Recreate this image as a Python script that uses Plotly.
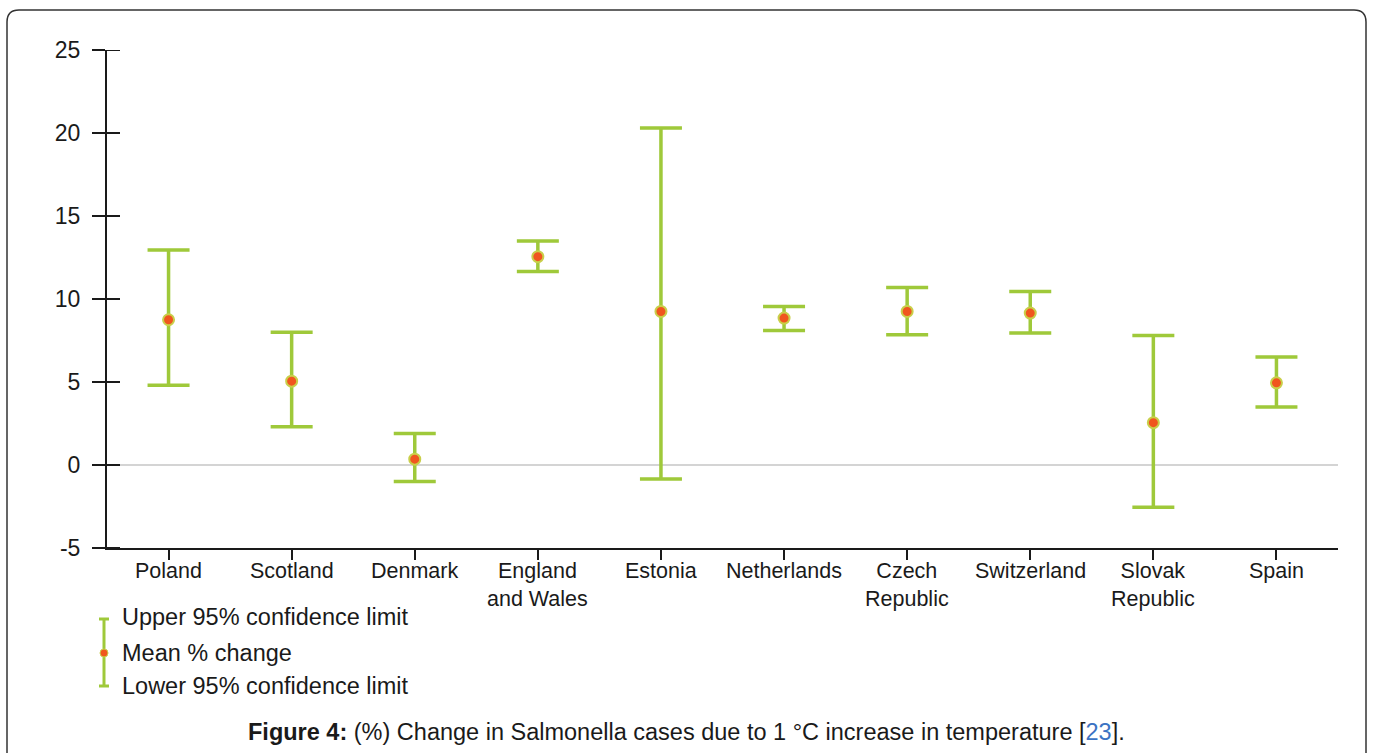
import plotly.graph_objects as go

# Percentage change in Salmonella cases per 1 °C rise, with 95% confidence limits
countries = ["Poland", "Scotland", "Denmark", "England<br>and Wales", "Estonia",
             "Netherlands", "Czech<br>Republic", "Switzerland", "Slovak<br>Republic", "Spain"]
mean_change = [8.75, 5.05, 0.35, 12.55, 9.25, 8.85, 9.25, 9.15, 2.55, 4.95]
upper_limit = [12.95, 8.0, 1.9, 13.5, 20.3, 9.55, 10.7, 10.45, 7.8, 6.5]
lower_limit = [4.8, 2.3, -1.0, 11.65, -0.85, 8.1, 7.85, 7.95, -2.55, 3.5]
y_ticks = [-5, 0, 5, 10, 15, 20, 25]
y_tick_text = ["-5", "0", "5", "10", "15", "20", "25"]

legend_labels = ["Upper 95% confidence limit", "Mean % change", "Lower 95% confidence limit"]
caption = ("<b>Figure 4:</b> (%) Change in Salmonella cases due to 1 °C increase in temperature "
           "[<span style='color:#3b73c3'>23</span>].")

GREEN = "#9fc93a"
ORANGE = "#f0561e"
INK = "#1a1a1a"
FONT = "Liberation Sans, Arial, sans-serif"

W, H = 1373, 753
L, R, T, B = 107, 35, 50, 205
PW, PH = W - L - R, H - T - B


def px(x):
    return (x - L) / PW


def py(y):
    return 1 - (y - T) / PH


err_plus = [u - m for u, m in zip(upper_limit, mean_change)]
err_minus = [m - lo for m, lo in zip(mean_change, lower_limit)]
idx = list(range(len(countries)))

fig = go.Figure()
fig.add_trace(go.Scatter(
    x=idx, y=mean_change, mode="markers",
    marker=dict(size=11, color=ORANGE, line=dict(color="#c9cf4a", width=2)),
    error_y=dict(type="data", symmetric=False, array=err_plus, arrayminus=err_minus,
                 color=GREEN, thickness=3.5, width=21),
    showlegend=False, hoverinfo="skip",
))

fig.update_layout(
    width=W, height=H,
    margin=dict(l=L, r=R, t=T, b=B, autoexpand=False),
    paper_bgcolor="white", plot_bgcolor="white",
    font=dict(family=FONT, size=22, color=INK),
    xaxis=dict(
        range=[-0.5, len(countries) - 0.5],
        tickmode="array", tickvals=idx, showticklabels=False,
        tickson="boundaries", ticks="outside", ticklen=10, tickwidth=2, tickcolor=INK,
        showline=True, linecolor=INK, linewidth=2, showgrid=False, zeroline=False,
    ),
    yaxis=dict(
        range=[-5, 25], tickmode="array", tickvals=y_ticks, ticktext=y_tick_text,
        ticks="outside", ticklen=13, tickwidth=2, tickcolor=INK,
        showline=True, linecolor=INK, linewidth=2, showgrid=False,
        zeroline=True, zerolinecolor="#d4d4d4", zerolinewidth=2,
        tickfont=dict(size=23, color=INK), ticklabelstandoff=7,
    ),
)

# right-hand half of each y tick, so the ticks cross the axis line
for v in y_ticks:
    fig.add_shape(type="line", xref="paper", yref="y", x0=0, x1=px(L + 13), y0=v, y1=v,
                  line=dict(color=INK, width=2), layer="above")

# category labels under each interval
for i, name in enumerate(countries):
    fig.add_annotation(text=name, x=i, xref="x", y=py(557), yref="paper",
                       xanchor="center", yanchor="top", showarrow=False,
                       font=dict(size=21.5, color=INK))

# figure frame with rounded top corners
frame = (f"M {px(7)} {py(760)} L {px(7)} {py(22)} Q {px(7)} {py(10)} {px(19)} {py(10)} "
         f"L {px(1354)} {py(10)} Q {px(1366)} {py(10)} {px(1366)} {py(22)} L {px(1366)} {py(760)}")
fig.add_shape(type="path", path=frame, xref="paper", yref="paper",
              line=dict(color="#333333", width=1.5))

# legend key: a small confidence bar with its mean dot
lx = 104
fig.add_shape(type="line", xref="paper", yref="paper", x0=px(lx), x1=px(lx),
              y0=py(619), y1=py(686), line=dict(color=GREEN, width=3))
for cy in (619, 686):
    fig.add_shape(type="line", xref="paper", yref="paper", x0=px(lx - 5), x1=px(lx + 5),
                  y0=py(cy), y1=py(cy), line=dict(color=GREEN, width=3))
fig.add_shape(type="circle", xref="paper", yref="paper",
              x0=px(lx - 4), x1=px(lx + 4), y0=py(649), y1=py(657),
              fillcolor=ORANGE, line=dict(color="#c9cf4a", width=1))

for label, cy in zip(legend_labels, (617, 653, 686)):
    fig.add_annotation(text=label, xref="paper", yref="paper", x=px(120), y=py(cy),
                       xanchor="left", yanchor="middle", showarrow=False,
                       font=dict(size=23.5, color=INK))

fig.add_annotation(text=caption, xref="paper", yref="paper", x=px(686), y=py(732),
                   xanchor="center", yanchor="middle", showarrow=False,
                   font=dict(size=23.5, color=INK))

fig.write_html("out.html")
